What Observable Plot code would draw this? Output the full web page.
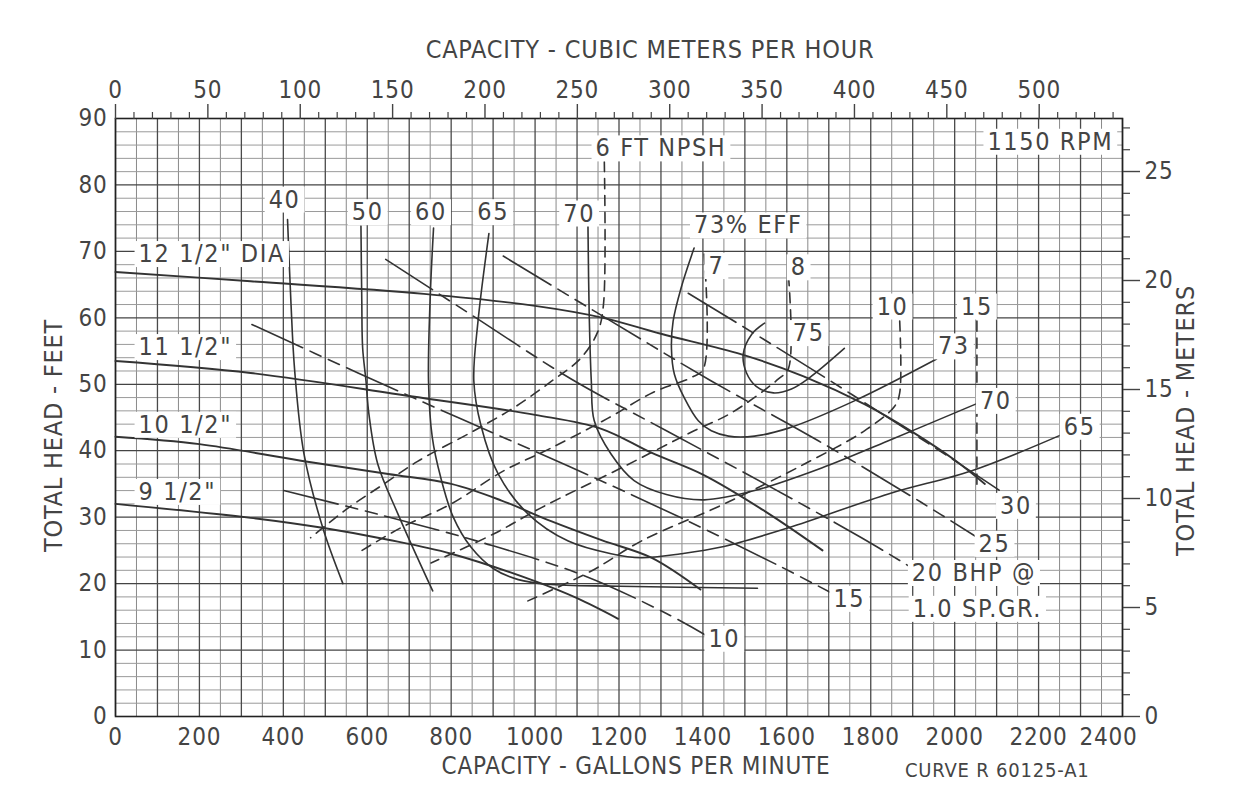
<!DOCTYPE html>
<html><head><meta charset="utf-8">
<script src="https://cdn.jsdelivr.net/npm/d3@7"></script>
<script src="https://cdn.jsdelivr.net/npm/@observablehq/plot@0.6"></script>
<style>
html,body{margin:0;padding:0;background:#fff;}
#chart svg{display:block;}
#chart svg text{letter-spacing:0.8px;}
#chart svg g.lbl text{letter-spacing:1.6px;}
</style></head><body><div id="chart"></div>
<script>
const FONT = "'Liberation Sans Narrow','DejaVu Sans Condensed',sans-serif";

// ---------- tick labels ----------
const gpmTicks = [0,200,400,600,800,1000,1200,1400,1600,1800,2000,2200];
const gpmLastTick = [2400];
const ftTicks = [0,10,20,30,40,50,60,70,80,90];
const m3hTicks = [0,50,100,150,200,250,300,350,400,450,500];
const m3hMinor = [10,20,30,40,60,70,80,90,110,120,130,140,160,170,180,190,210,220,230,240,260,270,280,290,310,320,330,340,360,370,380,390,410,420,430,440,460,470,480,490,510,520,530,540];
const meterTicks = [0,5,10,15,20,25];
const meterMinor = [1,2,3,4,6,7,8,9,11,12,13,14,16,17,18,19,21,22,23,24,26,27];
const GPM_PER_M3H = 4.4029, FT_PER_M = 3.28084;

// ---------- head-capacity curves (gpm, ft) ----------
const head125 = [[0,66.9],[322,65.5],[735,63.6],[1000,61.8],[1162,60.0],[1300,57.6],[1492,54.5],[1640,51.2],[1785,47],[1900,42.8],[2000,38.6],[2072,35]];
const head115 = [[0,53.5],[322,51.7],[704,48.2],[1000,45.4],[1158,43.3],[1277,39.7],[1400,36.4],[1550,30.8],[1685,25]];
const head105 = [[0,42.1],[200,41],[442,38.5],[650,36.5],[800,35],[920,32.5],[1038,29.4],[1160,26.5],[1277,23.9],[1394,19.1]];
const head95 = [[0,32],[322,29.9],[493,28.4],[650,26.6],[800,24.5],[998,20.4],[1100,17.8],[1198,14.7]];

// ---------- efficiency curves (gpm, ft) ----------
const eff40 = [[410,74.8],[418,62.5],[427,52.1],[449,39.6],[494,28.4],[542,20]];
const eff50 = [[585,73.8],[587,62.5],[589,55.5],[597,50.5],[604,45.5],[625,38],[673,30.5],[756,18.9]];
const eff60 = [[758,73.5],[750,63],[746,50.5],[755,42],[775,36],[805,30],[847,25.5],[902,22.2],[960,20.6],[1030,19.9],[1200,19.6],[1530,19.3]];
const eff65 = [[890,72.7],[864,59.5],[854,50.5],[871,43.8],[912,36.5],[983,30.5],[1079,26.4],[1181,24.5],[1253,23.9],[1348,24.5],[1444,25.5],[1604,28.4],[1842,33.5],[2041,37],[2258,42.5]];
const eff70 = [[1126,74],[1129,60.5],[1134,50.5],[1141,44.5],[1181,39.5],[1236,35.5],[1313,33.4],[1403,32.6],[1523,34],[1683,37.4],[1842,41.5],[2057,47.2]];
const eff73 = [[1379,70.5],[1348,64.5],[1329,59.5],[1325,55.4],[1332,51.5],[1356,47.9],[1389,44.5],[1420,43],[1461,42.2],[1523,42.2],[1604,43.4],[1761,47.5],[1957,53.8]];
const eff75 = [[1547,59.2],[1516,57.5],[1496,54.5],[1504,51.7],[1527,49.7],[1568,48.7],[1611,49.3],[1652,50.9],[1737,55.4]];

// ---------- NPSH curves (gpm, ft) ----------
const npsh6 = [[1165,83.5],[1163,62],[1150,58],[1110,54],[1040,50.5],[950,46.5],[860,43.2],[720,38.4],[640,35],[555,31.4],[465,26.9]];
const npsh7 = [[1403,69.6],[1401,52.3],[1372,51],[1282,48.8],[1174,44.9],[1038,40.4],[926,37],[800,32],[680,28.4],[585,24.9]];
const npsh8 = [[1604,66.3],[1604,52.4],[1580,50.8],[1468,45.7],[1379,43],[1205,37.4],[1014,31.4],[902,27.5],[752,23.1]];
const npsh10 = [[1869,59.5],[1869,48.7],[1857,46.7],[1785,43],[1642,38],[1451,32],[1253,26.4],[1134,21.9],[983,17.4]];
const npsh15 = [[2053,59.5],[2053,34]];

// ---------- brake horsepower lines (gpm, ft) ----------
const bhp10 = [[401,34],[640,30.2],[878,26.1],[1117,21.2],[1313,15.5],[1408,12.2]];
const bhp15 = [[325,59],[578,51.7],[823,44.8],[1079,37.7],[1348,29.9],[1587,22.5],[1709,18.5]];
const bhp20 = [[644,68.8],[864,59.8],[1086,50.8],[1313,43],[1551,34.9],[1778,26.9],[1897,22.4]];
const bhp25 = [[924,69.3],[1181,59.5],[1420,50.5],[1675,41.5],[1921,32.2],[2055,26.9]];
const bhp30 = [[1365,63.7],[1580,55.4],[1754,48.5],[1993,38.8],[2119,33.5]];

// ---------- labels ----------
const startLabelText = ['12 1/2" DIA','11 1/2"','10 1/2"','9 1/2"','20 BHP @','1.0 SP.GR.'];
const startLabelGpm  = [55,55,55,55,1898,1900];
const startLabelFt   = [69.6,55.6,43.9,33.8,21.6,16.2];
const midLabelText = ['40','50','60','65','70','73% EFF','6 FT NPSH','7','8','75','10','15','73','70','65','30','25','15','10','1150 RPM'];
const midLabelGpm  = [403,601,752,900,1105,1508,1300,1432,1628,1652,1852,2053,1998,2098,2298,2146,2095,1749,1451,2228];
const midLabelFt   = [77.8,75.9,75.9,75.9,75.7,73.9,85.5,67.8,67.6,57.7,61.7,61.7,55.7,47.5,43.6,31.7,26,17.7,11.7,86.5];

function table(groups){
  const out=[];
  for (const [name, pts] of Object.entries(groups)) for (const [g,f] of pts) out.push({name, gpm:g, ft:f});
  return out;
}
const headData = table({head125, head115, head105, head95});
const effData = table({eff40, eff50, eff60, eff65, eff70, eff73, eff75});
const npshData = table({npsh6, npsh7, npsh8, npsh10, npsh15});
const bhpData = table({bhp10, bhp15, bhp20, bhp25, bhp30});
const startLabels = startLabelText.map((t,i)=>({t, gpm:startLabelGpm[i], ft:startLabelFt[i]}));
const midLabels = midLabelText.map((t,i)=>({t, gpm:midLabelGpm[i], ft:midLabelFt[i]}));

const vMajor = d3.range(0, 2401, 100), vMinor = d3.range(50, 2400, 100);
const hMinor = d3.range(2, 90, 2).filter(d=>d%10!==0), hMajor = d3.range(10, 90, 10);

const ink = "#333", txt = "#444";
const plot = Plot.plot({
  width: 1233, height: 793,
  marginLeft: 115, marginRight: 111, marginTop: 118, marginBottom: 77,
  x: {domain:[0,2400]}, y: {domain:[0,90]},
  style: {fontFamily: FONT, fontSize: "24px", color: txt, background: "#fff"},
  marks: [
    Plot.ruleX(vMinor, {stroke:"#8a8a8a", strokeWidth:1}),
    Plot.ruleY(hMinor, {stroke:"#9a9a9a", strokeWidth:1}),
    Plot.ruleY(hMajor, {stroke:"#444", strokeWidth:1.3}),
    Plot.ruleX(vMajor, {stroke:"#4a4a4a", strokeWidth:1.3}),
    Plot.frame({stroke:"#222", strokeWidth:1.6}),
    // axes
    Plot.axisX(gpmTicks, {anchor:"bottom", tickSize:0, tickPadding:11, label:null, tickFormat:d=>String(d)}),
    Plot.axisX(gpmLastTick, {anchor:"bottom", tickSize:0, tickPadding:11, label:null, dx:-14, tickFormat:d=>String(d)}),
    Plot.axisY(ftTicks, {anchor:"left", tickSize:0, tickPadding:8, label:null, tickFormat:d=>String(d)}),
    Plot.axisX(m3hTicks.map(m=>m*GPM_PER_M3H), {anchor:"top", tickSize:15, tickPadding:6, label:null, tickFormat:d=>String(Math.round(d/GPM_PER_M3H)), strokeWidth:1.4}),
    Plot.axisX(m3hMinor.map(m=>m*GPM_PER_M3H), {anchor:"top", tickSize:7, label:null, tickFormat:()=>"", strokeWidth:1.2}),
    Plot.axisY(meterTicks.map(m=>m*FT_PER_M), {anchor:"right", tickSize:17, tickPadding:5, label:null, tickFormat:d=>String(Math.round(d/FT_PER_M)), strokeWidth:1.4}),
    Plot.axisY(meterMinor.map(m=>m*FT_PER_M), {anchor:"right", tickSize:7, label:null, tickFormat:()=>"", strokeWidth:1.2}),
    // curves
    Plot.line(npshData, {x:"gpm", y:"ft", z:"name", curve:"catmull-rom", stroke:ink, strokeWidth:1.6, strokeDasharray:"10,7"}),
    Plot.line(bhpData, {x:"gpm", y:"ft", z:"name", curve:"catmull-rom", stroke:ink, strokeWidth:1.6, strokeDasharray:"56,8,12,8,12,8"}),
    Plot.line(effData, {x:"gpm", y:"ft", z:"name", curve:"catmull-rom", stroke:ink, strokeWidth:1.6}),
    Plot.line(headData, {x:"gpm", y:"ft", z:"name", curve:"catmull-rom", stroke:ink, strokeWidth:1.9}),
    // labels
    Plot.text(startLabels, {x:"gpm", y:"ft", text:"t", textAnchor:"start", fill:txt, fontSize:25, className:"lbl"}),
    Plot.text(midLabels, {x:"gpm", y:"ft", text:"t", textAnchor:"middle", fill:txt, fontSize:25, className:"lbl"}),
    // titles
    Plot.text(["CAPACITY - CUBIC METERS PER HOUR"], {frameAnchor:"top", dx:31, dy:-78, fontSize:25, fill:txt}),
    Plot.text(["CAPACITY - GALLONS PER MINUTE"], {frameAnchor:"bottom", dx:17, dy:57, fontSize:24, fill:txt}),
    Plot.text(["CURVE R 60125-A1"], {frameAnchor:"bottom-right", textAnchor:"end", dx:-33, dy:60, fontSize:20, fill:txt}),
    Plot.text(["TOTAL HEAD - FEET"], {frameAnchor:"left", textAnchor:"middle", dx:-62, dy:18, rotate:-90, fontSize:25, fill:txt}),
    Plot.text(["TOTAL HEAD - METERS"], {frameAnchor:"right", textAnchor:"middle", dx:63, dy:3, rotate:-90, fontSize:25, fill:txt})
  ]
});
document.getElementById("chart").appendChild(plot);
// white boxes behind the in-chart labels
plot.querySelectorAll("g.lbl text").forEach(t=>{
  const b = t.getBBox();
  const r = document.createElementNS("http://www.w3.org/2000/svg","rect");
  r.setAttribute("x", b.x-4); r.setAttribute("y", b.y+2);
  r.setAttribute("width", b.width+8); r.setAttribute("height", b.height-3);
  r.setAttribute("fill", "#fff");
  const tr = t.getAttribute("transform"); if (tr) r.setAttribute("transform", tr);
  t.parentNode.insertBefore(r, t);
});
</script>
</body></html>
